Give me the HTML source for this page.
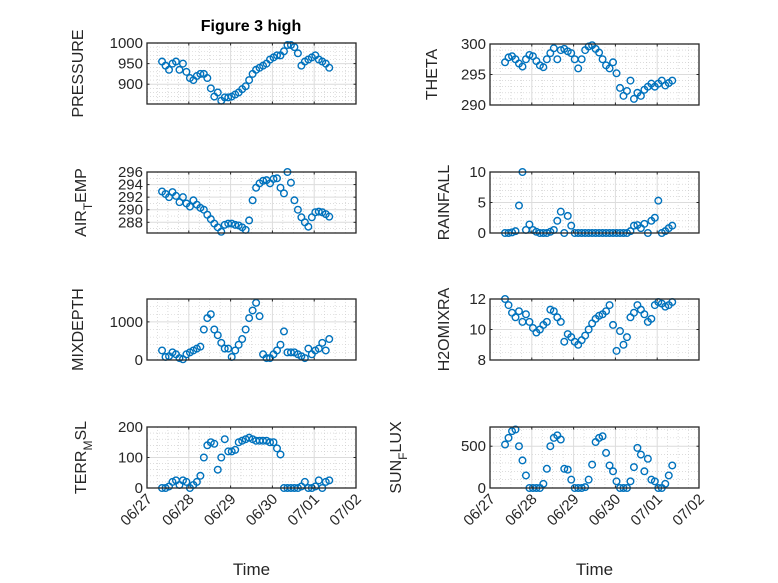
<!DOCTYPE html>
<html><head><meta charset="utf-8"><style>
html,body{margin:0;padding:0;background:#fff;}
svg{display:block;font-family:"Liberation Sans",sans-serif;}
</style></head><body>
<svg id="fig" width="778" height="583" viewBox="0 0 778 583"></svg>
<script>
// time samples: days after 06/27 00:00
const tStart = 0.36, tStep = 1/12;
const dateTicks = ["06/27","06/28","06/29","06/30","07/01","07/02"];
const pressure = [955,945,935,950,955,935,950,930,915,910,920,925,925,915,890,870,880,860,868,868,870,875,880,888,895,910,925,935,940,945,950,960,965,970,970,980,995,995,990,975,945,955,960,965,970,960,955,950,940];
const airTemp = [292.9,292.5,292.0,292.8,292.2,291.2,292.0,291.0,290.5,291.5,290.8,290.3,290.0,289.2,288.5,287.8,287.2,286.5,287.6,287.8,287.8,287.6,287.5,287.2,286.8,288.3,291.5,293.5,294.2,294.6,294.7,294.2,294.9,295.0,293.5,292.6,296.0,294.3,291.5,290.0,288.8,288.0,287.3,288.8,289.6,289.7,289.6,289.3,288.9];
const mixDepth = [250,80,100,200,150,50,20,150,200,250,300,350,800,1100,1200,800,650,450,300,300,80,250,400,550,800,1100,1300,1500,1150,150,50,50,150,250,400,750,200,200,200,150,100,50,300,150,250,300,450,250,550];
const terrMsl = [0,0,5,20,25,10,25,20,0,10,20,40,100,140,150,145,60,100,160,120,120,125,150,155,160,165,160,155,155,155,155,150,150,130,110,0,0,0,0,0,5,20,0,0,5,25,0,20,25];
const theta = [297,297.8,298,297.5,296.8,296.3,297.5,298.2,298,297.2,296.5,296.2,297.5,298.5,299.3,297.5,299,299.2,298.8,298.5,297.5,296,297.5,299,299.6,299.8,299.2,298.6,297.5,296.5,296,297,295.2,292.8,291.5,292.3,294,291,292,291.5,292.5,293,293.5,293,293.5,294,293.2,293.6,294];
const rainfall = [0,0,0.1,0.3,4.5,10,0.5,1.4,0.5,0.2,0,0,0,0.2,0.5,2,3.5,0,2.8,1.2,0,0,0,0,0,0,0,0,0,0,0,0,0,0,0,0,0.3,1.2,1.3,0.8,1.5,0,2,2.5,5.3,0,0.3,0.8,1.2];
const h2o = [12,11.6,11.1,10.8,11.2,10.5,11,10.5,10.1,9.8,10,10.3,10.5,11.3,11.2,10.8,10.5,9.2,9.7,9.5,9.2,9.0,9.3,9.6,10.0,10.4,10.7,10.9,11.0,11.2,11.6,10.3,8.6,9.9,9.0,9.5,10.8,11.1,11.6,11.3,11.0,10.5,10.7,11.6,11.8,11.7,11.5,11.6,11.8];
const sunFlux = [520,600,680,700,500,330,150,0,0,0,0,50,230,500,600,630,580,230,220,100,0,0,0,10,100,280,550,600,620,420,270,200,80,0,0,0,80,250,480,400,200,350,100,80,0,0,50,150,270];

const NS="http://www.w3.org/2000/svg";
const svg=document.getElementById('fig');
function el(tag,attrs,parent){const e=document.createElementNS(NS,tag);for(const k in attrs)e.setAttribute(k,attrs[k]);(parent||svg).appendChild(e);return e;}

const panels=[
 {name:'pressure',data:pressure,x0:147,y0:43,ylim:[852,1000],ticks:[900,950,1000],minor:10,label:['PRESSURE'],lx:77,bottom:false},
 {name:'air-temp',data:airTemp,x0:147,y0:172,ylim:[286.3,296],ticks:[288,290,292,294,296],minor:1,label:['AIR','T','EMP'],lx:80,bottom:false},
 {name:'mixdepth',data:mixDepth,x0:147,y0:299,ylim:[0,1600],ticks:[0,1000],minor:200,label:['MIXDEPTH'],lx:77,bottom:false},
 {name:'terr-msl',data:terrMsl,x0:147,y0:427,ylim:[0,200],ticks:[0,100,200],minor:20,label:['TERR','M','SL'],lx:80,bottom:true},
 {name:'theta',data:theta,x0:490,y0:44,ylim:[290,300],ticks:[290,295,300],minor:1,label:['THETA'],lx:431,bottom:false},
 {name:'rainfall',data:rainfall,x0:490,y0:172,ylim:[0,10],ticks:[0,5,10],minor:1,label:['RAINFALL'],lx:443,bottom:false},
 {name:'h2omixra',data:h2o,x0:490,y0:299,ylim:[8,12],ticks:[8,10,12],minor:0.5,label:['H2OMIXRA'],lx:443,bottom:false},
 {name:'sun-flux',data:sunFlux,x0:490,y0:427,ylim:[0,730],ticks:[0,500],minor:100,label:['SUN','F','LUX'],lx:395,bottom:true}
];
const W=209,H=61,DAYS=5;

panels.forEach(p=>{
  const g=el('g',{});
  
  
  const xs=t=>p.x0+t/DAYS*W;
  const ys=v=>p.y0+H-(v-p.ylim[0])/(p.ylim[1]-p.ylim[0])*H;
  el('rect',{x:p.x0,y:p.y0,width:W,height:H,fill:'#fff'},g);
  for(let t=0.25;t<DAYS;t+=0.25){ if(Math.abs(t-Math.round(t))<1e-6)continue;
    el('line',{x1:xs(t),x2:xs(t),y1:p.y0,y2:p.y0+H,stroke:'#c8c8c8','stroke-width':0.6,'stroke-dasharray':'1,2'},g);}
  const m0=Math.ceil(p.ylim[0]/p.minor)*p.minor;
  for(let v=m0;v<=p.ylim[1]+1e-9;v+=p.minor){ if(p.ticks.some(tk=>Math.abs(tk-v)<1e-6))continue;
    el('line',{x1:p.x0,x2:p.x0+W,y1:ys(v),y2:ys(v),stroke:'#c8c8c8','stroke-width':0.6,'stroke-dasharray':'1,2'},g);}
  for(let d=1;d<DAYS;d++) el('line',{x1:xs(d),x2:xs(d),y1:p.y0,y2:p.y0+H,stroke:'#dcdcdc','stroke-width':1},g);
  p.ticks.forEach(v=>el('line',{x1:p.x0,x2:p.x0+W,y1:ys(v),y2:ys(v),stroke:'#dcdcdc','stroke-width':1},g));
  p.data.forEach((v,i)=>{
    const c=el('circle',{cx:xs(tStart+i*tStep),cy:ys(v),r:3.3,fill:'none',stroke:'#0072BD','stroke-width':1.4},g);
    
    
  });
  el('rect',{x:p.x0,y:p.y0,width:W,height:H,fill:'none',stroke:'#262626','stroke-width':1.3},g);
  for(let d=0;d<=DAYS;d++){
    el('line',{x1:xs(d),x2:xs(d),y1:p.y0+H,y2:p.y0+H-2.5,stroke:'#262626'},g);
    el('line',{x1:xs(d),x2:xs(d),y1:p.y0,y2:p.y0+2.5,stroke:'#262626'},g);
    if(p.bottom){
      const tx=el('text',{x:0,y:0,'font-size':15,fill:'#262626','text-anchor':'end',transform:`translate(${xs(d)+6},${p.y0+H+12}) rotate(-45)`},g);
      tx.textContent=dateTicks[d];
      
      
    }
  }
  p.ticks.forEach(v=>{
    el('line',{x1:p.x0,x2:p.x0+2.5,y1:ys(v),y2:ys(v),stroke:'#262626'},g);
    el('line',{x1:p.x0+W,x2:p.x0+W-2.5,y1:ys(v),y2:ys(v),stroke:'#262626'},g);
    const tx=el('text',{x:p.x0-4,y:ys(v)+5,'font-size':15,fill:'#262626','text-anchor':'end'},g);
    tx.textContent=String(v);
    
    
  });
  const yl=el('text',{x:0,y:0,'font-size':16,fill:'#262626','text-anchor':'middle',transform:`translate(${p.lx+6},${p.y0+H/2}) rotate(-90)`},g);
  
  
  if(p.label.length===1){yl.textContent=p.label[0];}
  else{
    const a=el('tspan',{},yl);a.textContent=p.label[0];
    const b=el('tspan',{dy:6,'font-size':12},yl);b.textContent=p.label[1];
    const c=el('tspan',{dy:-6},yl);c.textContent=p.label[2];
  }
  if(p.bottom){
    const xl=el('text',{x:p.x0+W/2,y:575,'font-size':17,fill:'#262626','text-anchor':'middle'},g);
    xl.textContent='Time';
    
    
  }
});
const title=el('text',{x:251,y:31,'font-size':16,'font-weight':'bold',fill:'#000','text-anchor':'middle'});
title.textContent='Figure 3 high';


</script>
</body></html>
